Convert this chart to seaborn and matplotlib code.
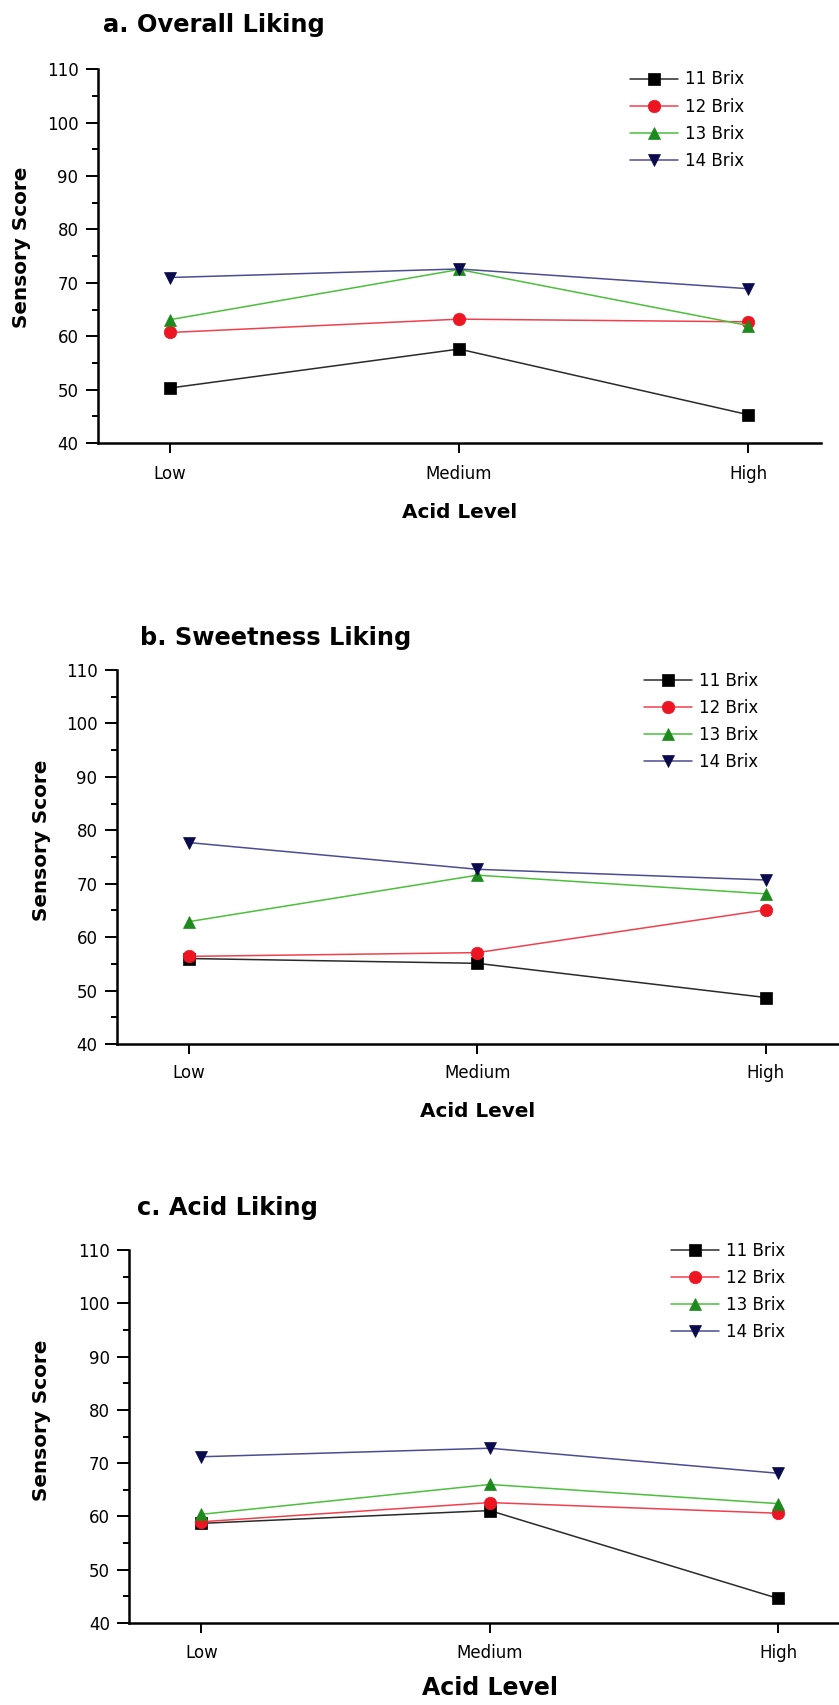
import matplotlib
matplotlib.use("Agg")
import matplotlib.pyplot as plt
from matplotlib.lines import Line2D
from matplotlib.ticker import MultipleLocator
import pandas as pd
import seaborn as sns

# ---- data -------------------------------------------------------------
acid_levels = ["Low", "Medium", "High"]
brix_levels = ["11 Brix", "12 Brix", "13 Brix", "14 Brix"]

overall_11 = [50.3, 57.6, 45.3]
overall_12 = [60.7, 63.2, 62.7]
overall_13 = [63.1, 72.5, 62.0]
overall_14 = [71.0, 72.6, 68.9]

sweet_11 = [56.0, 55.1, 48.7]
sweet_12 = [56.4, 57.1, 65.1]
sweet_13 = [62.9, 71.6, 68.1]
sweet_14 = [77.7, 72.7, 70.7]

acid_11 = [58.7, 61.1, 44.6]
acid_12 = [59.0, 62.6, 60.6]
acid_13 = [60.4, 66.0, 62.4]
acid_14 = [71.2, 72.8, 68.1]

panel_titles = ["a. Overall Liking", "b. Sweetness Liking", "c. Acid Liking"]
y_ticks = [40, 50, 60, 70, 80, 90, 100, 110]

# ---- styling ----------------------------------------------------------
marker_shapes = ["s", "o", "^", "v"]
marker_colors = ["#000000", "#ee1522", "#1c8a1c", "#0a0a4e"]
line_colors = ["#2a2a2a", "#f0404e", "#4cbf3c", "#4c4c92"]

sns.set_theme(style="ticks")
plt.rcParams["font.family"] = ["DejaVu Sans"]
plt.rcParams.update({
    "text.color": "black",
    "axes.labelcolor": "black",
    "xtick.color": "black",
    "ytick.color": "black",
    "axes.edgecolor": "black",
})

W, H = 839, 1705
fig = plt.figure(figsize=(W / 100, H / 100), dpi=100)


def px_rect(left, top, right, bottom):
    return [left / W, 1 - bottom / H, (right - left) / W, (bottom - top) / H]


def long_frame(series):
    rows = []
    for brix, values in zip(brix_levels, series):
        for level, v in zip(acid_levels, values):
            rows.append({"Acid Level": level, "Brix": brix, "Score": v})
    return pd.DataFrame(rows)


panels = [
    dict(series=[overall_11, overall_12, overall_13, overall_14],
         rect=px_rect(97.7, 69.3, 820.5, 443.0), title_xy=(103, 31.7),
         ylab_xy=(31, 247), leg_xy=(630, 70.5), xlab_top=503, xlab_size=14.4,
         xpad=8.5),
    dict(series=[sweet_11, sweet_12, sweet_13, sweet_14],
         rect=px_rect(116.7, 670.0, 837.9, 1044.0), title_xy=(140, 645),
         ylab_xy=(51, 840), leg_xy=(644, 671.5), xlab_top=1102, xlab_size=14.4,
         xpad=7.0),
    dict(series=[acid_11, acid_12, acid_13, acid_14],
         rect=px_rect(129.3, 1250.0, 850.3, 1623.0), title_xy=(137, 1215),
         ylab_xy=(51, 1420), leg_xy=(671, 1241.5), xlab_top=1676, xlab_size=17,
         xpad=8.0),
]

for title, spec in zip(panel_titles, panels):
    ax = fig.add_axes(spec["rect"])
    df = long_frame(spec["series"])
    sns.lineplot(
        data=df, x="Acid Level", y="Score", hue="Brix", style="Brix",
        hue_order=brix_levels, style_order=brix_levels,
        palette=line_colors, markers=marker_shapes, dashes=False,
        sort=False, errorbar=None, legend=False, ax=ax,
        linewidth=1.1, markersize=9,
    )
    for line, mc in zip(ax.lines, marker_colors):
        line.set_markerfacecolor(mc)
        line.set_markeredgecolor(mc)
        line.set_markeredgewidth(0.5)

    ax.set_xlim(-0.25, 2.25)
    ax.set_ylim(40, 110)
    ax.set_yticks(y_ticks)
    ax.yaxis.set_minor_locator(MultipleLocator(5))
    sns.despine(ax=ax)
    for side in ("left", "bottom"):
        ax.spines[side].set_linewidth(1.8)
    ax.tick_params(axis="y", which="major", length=8.4, width=1.4, pad=5.5,
                   labelsize=12, direction="out")
    ax.tick_params(axis="y", which="minor", length=4.3, width=1.4,
                   direction="out", left=True)
    ax.tick_params(axis="x", which="major", length=7.4, width=1.4,
                   pad=spec["xpad"], labelsize=12, direction="out")
    ax.tick_params(axis="x", which="minor", bottom=False)

    # axis labels
    ax.set_xlabel("Acid Level", fontsize=spec["xlab_size"], fontweight="bold")
    ax_h = spec["rect"][3] * H
    ax_bottom = (1 - spec["rect"][1]) * H
    ax.xaxis.set_label_coords(0.5, (ax_bottom - spec["xlab_top"]) / ax_h)
    ax.set_ylabel("Sensory Score", fontsize=14.4, fontweight="bold")
    ax_w = spec["rect"][2] * W
    ax_left = spec["rect"][0] * W
    ax.yaxis.set_label_coords((spec["ylab_xy"][0] - ax_left) / ax_w,
                              (ax_bottom - spec["ylab_xy"][1]) / ax_h)

    # title
    fig.text(spec["title_xy"][0] / W, 1 - spec["title_xy"][1] / H, title,
             fontsize=17.4, fontweight="bold", ha="left", va="baseline")

    # legend
    handles = [
        Line2D([], [], color=lc, lw=1.1, marker=m, markersize=9,
               markerfacecolor=mc, markeredgecolor=mc, markeredgewidth=0.5)
        for lc, mc, m in zip(line_colors, marker_colors, marker_shapes)
    ]
    ax.legend(handles, brix_levels, loc="upper left",
              bbox_to_anchor=(spec["leg_xy"][0] / W, 1 - spec["leg_xy"][1] / H),
              bbox_transform=fig.transFigure, frameon=False, borderpad=0,
              borderaxespad=0, handlelength=2.9, handletextpad=0.4,
              labelspacing=0.55, fontsize=12)

fig.savefig("out.png", dpi=100)
